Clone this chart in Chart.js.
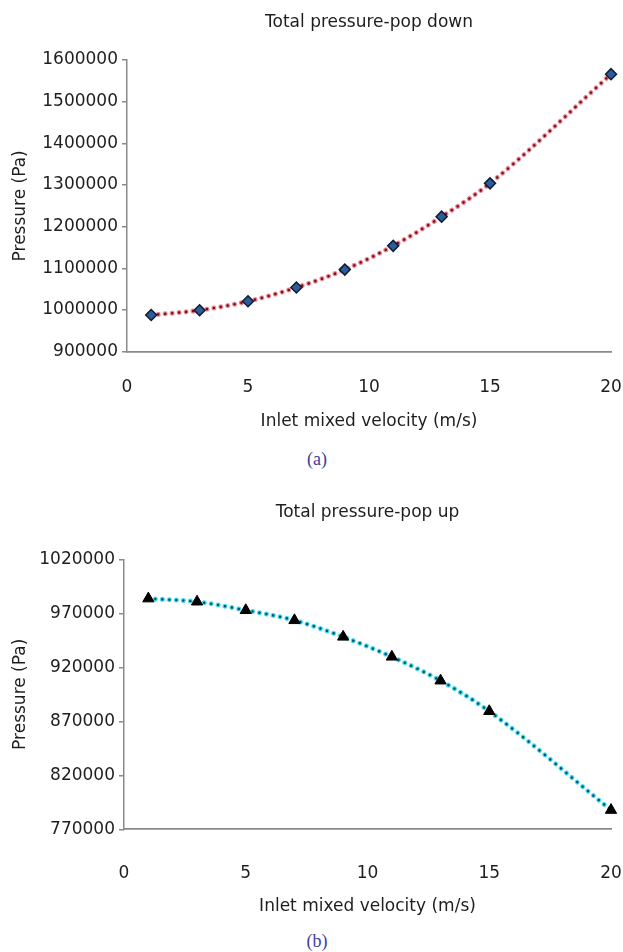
<!DOCTYPE html>
<html>
<head>
<meta charset="utf-8">
<title>Total pressure vs inlet mixed velocity</title>
<script src="https://cdn.jsdelivr.net/npm/chart.js@4.4.0/dist/chart.umd.min.js"></script>
<style>
  body { margin: 0; background: #fff; width: 623px; height: 952px; position: relative; overflow: hidden; }
  .box { position: absolute; left: 0; width: 623px; height: 440px; }
  .cap { position: absolute; left: 287px; width: 60px; height: 20px; line-height: 20px; text-align: center;
         font-family: 'Liberation Serif', 'DejaVu Serif', serif; font-size: 18px; color: #3d3d9e; }
</style>
</head>
<body>
<div class="box" style="top:0"><canvas id="downChart"></canvas></div>
<div class="cap" style="top:449px">(a)</div>
<div class="box" style="top:480px"><canvas id="upChart"></canvas></div>
<div class="cap" style="top:931px">(b)</div>

<script>
// Data
const velocity = [1, 3, 5, 7, 9, 11, 13, 15, 20];
const pressureDown = [988000, 999500, 1021000, 1054000, 1097000, 1154000, 1224000, 1304000, 1566000];
const pressureUp = [983600, 980700, 972800, 963500, 948200, 929700, 907600, 879300, 787800];

const xTicks = [0, 5, 10, 15, 20];
const downTicks = [900000, 1000000, 1100000, 1200000, 1300000, 1400000, 1500000, 1600000];
const upTicks = [770000, 820000, 870000, 920000, 970000, 1020000];

const FONT = "'DejaVu Sans', 'Liberation Sans', sans-serif";
const TEXT = '#1e1e1e';
const AXIS = '#8a8a8a';

function toPoints(ys) {
    return velocity.map((v, i) => ({ x: v, y: ys[i] }));
}

// Dotted trend line = wide light dots under narrow dark dots, plus the markers
function buildDatasets(ys, halo, core, marker) {
    const pts = toPoints(ys);
    const line = {
        data: pts,
        showLine: true,
        pointRadius: 0,
        clip: false,
        cubicInterpolationMode: 'monotone',
        borderCapStyle: 'round',
        borderDash: [0.01, 7]
    };
    return [
        Object.assign({}, marker, { data: pts, showLine: false, clip: false, order: 0 }),
        Object.assign({}, line, { borderColor: core, borderWidth: 2.6, order: 1 }),
        Object.assign({}, line, { borderColor: halo, borderWidth: 5, order: 2 })
    ];
}

function createPressureChart(canvasId, cfg) {
    const ctx = document.getElementById(canvasId).getContext('2d');
    new Chart(ctx, {
        type: 'scatter',
        data: { datasets: buildDatasets(cfg.values, cfg.halo, cfg.core, cfg.marker) },
        options: {
            responsive: true,
            maintainAspectRatio: false,
            animation: false,
            layout: { padding: { left: 0, right: 12, top: 0, bottom: 0 } },
            plugins: {
                legend: { display: false },
                tooltip: { enabled: false },
                title: {
                    display: true,
                    text: cfg.title,
                    fullSize: false,
                    color: TEXT,
                    font: { family: FONT, size: 17, weight: 'normal' },
                    padding: { top: cfg.titleTop, bottom: cfg.titleBottom }
                }
            },
            scales: {
                x: {
                    type: 'linear',
                    min: 0,
                    max: 20,
                    afterBuildTicks: s => { s.ticks = xTicks.map(v => ({ value: v })); },
                    afterFit: s => {
                        s.height = cfg.xHeight;
                        // tick padding is only meant to push labels down, not to eat the right edge
                        s.paddingLeft = 0;
                        s.paddingRight = 0;
                    },
                    grid: { display: false, drawTicks: false },
                    border: { display: true, color: AXIS, width: 1.8 },
                    ticks: { color: TEXT, padding: cfg.xPad, font: { family: FONT, size: 17 } },
                    title: {
                        display: true,
                        text: 'Inlet mixed velocity (m/s)',
                        color: TEXT,
                        font: { family: FONT, size: 17 },
                        padding: { top: 0, bottom: cfg.xTitleBottom }
                    }
                },
                y: {
                    min: cfg.yTicks[0],
                    max: cfg.yTicks[cfg.yTicks.length - 1],
                    afterBuildTicks: s => { s.ticks = cfg.yTicks.map(v => ({ value: v })); },
                    afterFit: s => { s.width = cfg.yWidth; },
                    grid: { drawOnChartArea: false, drawTicks: true, tickLength: 5, color: AXIS, lineWidth: 1.5 },
                    border: { display: true, color: AXIS, width: 1.5 },
                    ticks: {
                        color: TEXT,
                        padding: 4,
                        font: { family: FONT, size: 17 },
                        callback: v => String(v)
                    },
                    title: {
                        display: true,
                        text: 'Pressure (Pa)',
                        color: TEXT,
                        font: { family: FONT, size: 17 },
                        padding: { top: 10, bottom: 0 }
                    }
                }
            }
        }
    });
}

document.addEventListener('DOMContentLoaded', () => {
    createPressureChart('downChart', {
        title: 'Total pressure-pop down',
        values: pressureDown,
        yTicks: downTicks,
        halo: '#e98a96',
        core: '#7d0b18',
        marker: {
            pointStyle: 'rectRot',
            pointRadius: 5.5,
            pointBackgroundColor: '#2b5c9c',
            pointBorderColor: '#0e1d36',
            pointBorderWidth: 1.5
        },
        titleTop: 12,
        titleBottom: 27.6,
        xHeight: 88.3,
        xPad: 26,
        xTitleBottom: 7.8,
        yWidth: 127
    });

    createPressureChart('upChart', {
        title: 'Total pressure-pop up',
        values: pressureUp,
        yTicks: upTicks,
        halo: '#45dcf0',
        core: '#0b4f6e',
        marker: {
            pointStyle: 'triangle',
            pointRadius: 6.5,
            pointBackgroundColor: '#000000',
            pointBorderColor: '#000000',
            pointBorderWidth: 1
        },
        titleTop: 22.8,
        titleBottom: 36.1,
        xHeight: 90.7,
        xPad: 34,
        xTitleBottom: 3,
        yWidth: 124
    });
});
</script>
</body>
</html>
